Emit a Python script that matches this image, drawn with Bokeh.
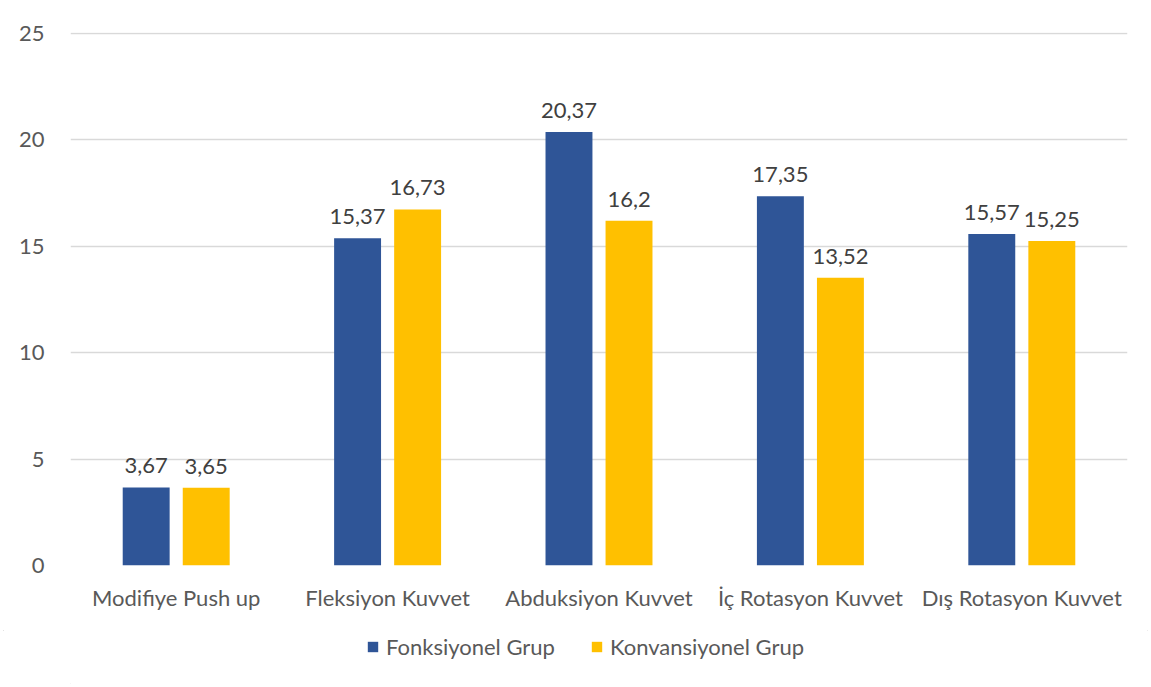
from bokeh.plotting import figure
from bokeh.layouts import column
from bokeh.models import ColumnDataSource, FactorRange, Range1d, LabelSet, Legend, LegendItem, SingleIntervalTicker
from bokeh.core.properties import value
from bokeh.transform import dodge
from bokeh.embed import file_html
from bokeh.resources import INLINE

categories = ["Modifiye Push up", "Fleksiyon Kuvvet", "Abduksiyon Kuvvet", "İç Rotasyon Kuvvet", "Dış Rotasyon Kuvvet"]
fonksiyonel = [3.67, 15.37, 20.37, 17.35, 15.57]
konvansiyonel = [3.65, 16.73, 16.2, 13.52, 15.25]
series_names = ["Fonksiyonel Grup", "Konvansiyonel Grup"]
colors = ["#2F5597", "#FFC000"]

def fmt(v):
    return ("%g" % v).replace(".", ",")

src = ColumnDataSource(dict(
    cat=categories,
    f=fonksiyonel,
    k=konvansiyonel,
    fl=[fmt(v) for v in fonksiyonel],
    kl=[fmt(v) for v in konvansiyonel],
))

FONT = "Lato"
FS = "22px"
off = 0.142
w = 0.222

p = figure(width=1151, height=630, frame_width=1057, frame_height=533,
           x_range=FactorRange(factors=categories, range_padding=0),
           y_range=Range1d(0, 25.04), output_backend="svg", toolbar_location=None,
           min_border_left=70, min_border_right=24, min_border_top=32, min_border_bottom=65)

r1 = p.vbar(x=dodge("cat", -off, range=p.x_range), top="f", width=w, source=src,
            fill_color=colors[0], line_color=None)
r2 = p.vbar(x=dodge("cat", off, range=p.x_range), top="k", width=w, source=src,
            fill_color=colors[1], line_color=None)

for col, lab, o in [("f", "fl", -off), ("k", "kl", off)]:
    ls = LabelSet(x=dodge("cat", o, range=p.x_range), y=col, text=lab, source=src,
                  text_align="center", text_baseline="bottom", y_offset=14,
                  text_font=value(FONT), text_font_size=value(FS), text_color=value("#404040"))
    p.add_layout(ls)

p.outline_line_color = None
p.xgrid.grid_line_color = None
p.ygrid.grid_line_color = "#D9D9D9"
p.ygrid.grid_line_width = 1.5
p.yaxis.ticker = SingleIntervalTicker(interval=5)
for ax in (p.xaxis, p.yaxis):
    ax.axis_line_color = None
    ax.major_tick_line_color = None
    ax.minor_tick_line_color = None
    ax.major_label_text_font = FONT
    ax.major_label_text_font_size = FS
    ax.major_label_text_color = "#595959"
p.yaxis.major_label_standoff = 20
p.xaxis.major_label_standoff = 12

# legend strip below the chart
pl = figure(width=1151, height=57, frame_width=1151, frame_height=57,
            x_range=p.x_range, y_range=Range1d(1000, 1001),
            output_backend="svg", toolbar_location=None,
            min_border=0, min_border_left=0, min_border_right=0, min_border_top=0, min_border_bottom=0)
l1 = pl.vbar(x=dodge("cat", -off, range=pl.x_range), top="f", width=w, source=src,
             fill_color=colors[0], line_color=None)
l2 = pl.vbar(x=dodge("cat", off, range=pl.x_range), top="k", width=w, source=src,
             fill_color=colors[1], line_color=None)
pl.axis.visible = False
pl.grid.visible = False
pl.outline_line_color = None

legend = Legend(items=[LegendItem(label=series_names[0], renderers=[l1]),
                       LegendItem(label=series_names[1], renderers=[l2])],
                orientation="horizontal", location=(366, 27),
                label_text_font=FONT, label_text_font_size=FS, label_text_color="#595959",
                glyph_width=13, glyph_height=13, label_standoff=7, spacing=35,
                border_line_color=None, background_fill_alpha=0, margin=0, padding=0)
pl.add_layout(legend)

layout = column(p, pl, spacing=0,
                styles={"outline": "1.5px solid #D9D9D9", "outline-offset": "-4px"})
open("out.html", "w").write(file_html(layout, INLINE))
